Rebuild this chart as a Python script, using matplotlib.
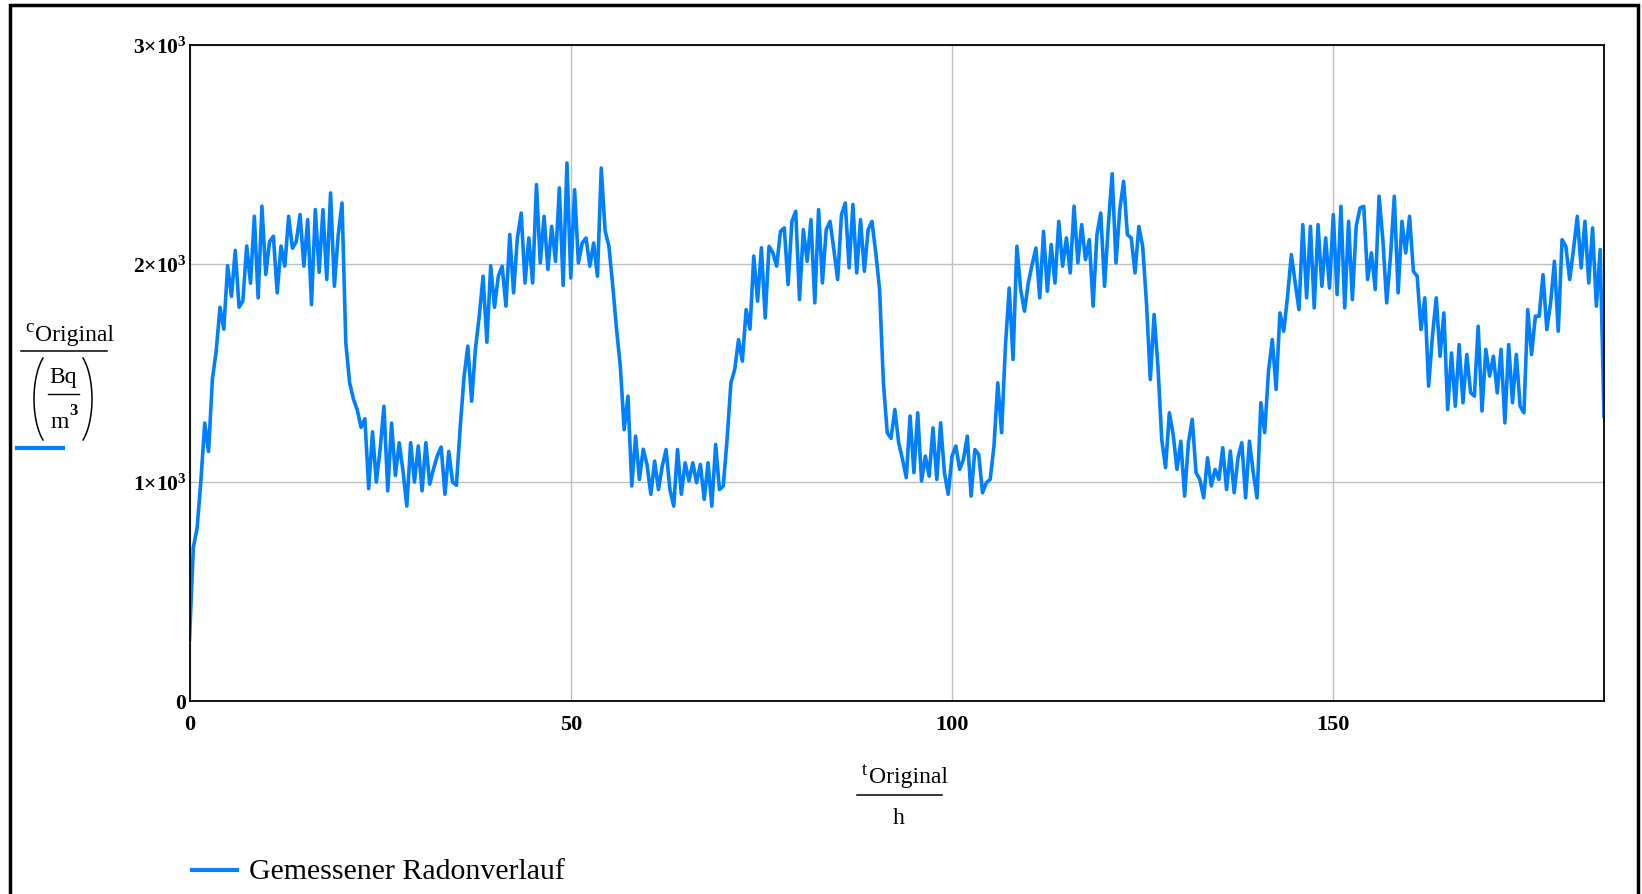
import numpy as np
import matplotlib
matplotlib.use("Agg")
import matplotlib.pyplot as plt
from matplotlib.lines import Line2D
from matplotlib.patches import Rectangle

# Gemessene Radonkonzentration, ein Wert alle 30 min (Bq/m^3)
t_step_h = 0.5
c_original = [
    280, 700, 790, 1010, 1270, 1140, 1470, 1600, 1800, 1700,
    1990, 1850, 2060, 1800, 1830, 2080, 1910, 2216, 1843, 2262,
    1950, 2100, 2125, 1866, 2080, 1988, 2216, 2070, 2100, 2224,
    1988, 2201, 1812, 2247, 1960, 2247, 1927, 2323, 1896, 2130,
    2277, 1637, 1454, 1380, 1330, 1250, 1290, 970, 1230, 1000,
    1150, 1347, 960, 1270, 1030, 1180, 1050, 890, 1180, 1000,
    1165, 960, 1180, 990, 1060, 1120, 1160, 944, 1140, 1000,
    985, 1250, 1480, 1622, 1370, 1610, 1760, 1942, 1640, 1990,
    1800, 1942, 1988, 1805, 2133, 1866, 2117, 2231, 1911, 2117,
    1911, 2361, 2003, 2216, 1973, 2170, 2010, 2346, 1900, 2460,
    1934, 2338, 2003, 2094, 2117, 1988, 2094, 1942, 2437, 2150,
    2080, 1900, 1700, 1530, 1240, 1393, 982, 1210, 1012, 1150,
    1080, 944, 1096, 966, 1073, 1149, 966, 890, 1149, 944,
    1088, 1005, 1088, 997, 1081, 921, 1088, 890, 1172, 966,
    982, 1195, 1454, 1515, 1652, 1553, 1789, 1700, 2034, 1828,
    2072, 1751, 2079, 2049, 1988, 2147, 2163, 1904, 2193, 2239,
    1835, 2155, 2010, 2201, 1820, 2247, 1911, 2155, 2193, 2064,
    1927, 2224, 2277, 1980, 2270, 1957, 2201, 1965, 2155, 2193,
    2049, 1881, 1454, 1226, 1200, 1332, 1180, 1104, 1020, 1302,
    1043, 1317, 1005, 1119, 1027, 1248, 1012, 1271, 1043, 944,
    1119, 1165, 1058, 1104, 1210, 936, 1149, 1126, 951, 997,
    1012, 1165, 1454, 1226, 1622, 1888, 1561, 2079, 1881, 1782,
    1911, 1995, 2071, 1843, 2147, 1873, 2087, 1911, 2193, 1988,
    2117, 1957, 2262, 2003, 2178, 2018, 2109, 1805, 2132, 2231,
    1896, 2178, 2411, 2003, 2247, 2376, 2132, 2117, 1957, 2170,
    2079, 1820, 1469, 1767, 1530, 1195, 1066, 1317, 1218, 1058,
    1187, 936, 1180, 1287, 1043, 1012, 928, 1111, 982, 1058,
    1012, 1157, 966, 1142, 951, 1111, 1180, 928, 1187, 1043,
    928, 1363, 1226, 1507, 1652, 1424, 1774, 1690, 1850, 2041,
    1911, 1789, 2178, 1843, 2170, 1797, 2178, 1896, 2117, 1888,
    2224, 1858, 2262, 1797, 2193, 1835, 2170, 2254, 2262, 1927,
    2049, 1881, 2308, 2109, 1820, 2033, 2308, 1866, 2193, 2049,
    2216, 1965, 1942, 1698, 1843, 1439, 1667, 1843, 1576, 1774,
    1332, 1591, 1347, 1629, 1363, 1584, 1410, 1393, 1713, 1325,
    1607, 1485, 1576, 1408, 1607, 1271, 1629, 1363, 1584, 1347,
    1317, 1789, 1584, 1759, 1759, 1949, 1698, 1820, 2010, 1690,
    2109, 2079, 1927, 2064, 2216, 1980, 2193, 1911, 2163, 1805,
    2064, 1300,
]

x_ticks = [0, 50, 100, 150]
x_tick_labels = ["0", "50", "100", "150"]
y_ticks = [0, 1000, 2000, 3000]
y_tick_labels = [r"$\mathbf{0}$", r"$\mathbf{1{\times}10^{3}}$",
                 r"$\mathbf{2{\times}10^{3}}$", r"$\mathbf{3{\times}10^{3}}$"]
legend_label = "Gemessener Radonverlauf"

plt.rcParams["font.family"] = ["Liberation Serif", "DejaVu Serif"]
plt.rcParams["mathtext.fontset"] = "custom"
plt.rcParams["mathtext.rm"] = "Liberation Serif"
plt.rcParams["mathtext.bf"] = "Liberation Serif:bold"
plt.rcParams["mathtext.it"] = "Liberation Serif:italic"

W, H = 1642, 895
line_color = "#0080ff"


def fx(x):
    return x / W


def fy(y):
    return 1 - y / H


def hline(fig, x0, x1, y, color="black", lw=1.1):
    fig.add_artist(Line2D([fx(x0), fx(x1)], [fy(y), fy(y)], color=color, lw=lw,
                          transform=fig.transFigure))


def paren(fig, cx, cy, a, b, t0, t1):
    # Klammer als Ellipsenbogen, Pixelkoordinaten
    ang = np.radians(np.linspace(t0, t1, 40))
    px = cx + a * np.cos(ang)
    py = cy - b * np.sin(ang)
    fig.add_artist(Line2D(fx(px), fy(py), color="black", lw=1.1,
                          transform=fig.transFigure))


t_original = np.arange(len(c_original)) * t_step_h

fig = plt.figure(figsize=(W / 100, H / 100), dpi=100)
ax = fig.add_axes([fx(189.5), fy(701.6), fx(1604) - fx(189.5), fy(46) - fy(701.6)])

ax.plot(t_original, c_original, color=line_color, linewidth=2.6, solid_joinstyle="round")

ax.set_xlim(0, 185.5)
ax.set_ylim(0, 3000)
ax.set_xticks(x_ticks, labels=x_tick_labels, fontsize=16, fontweight="bold")
ax.set_yticks(y_ticks, labels=y_tick_labels, fontsize=15.5)
ax.tick_params(axis="x", length=0, pad=10)
ax.tick_params(axis="y", length=0, pad=2)
ax.grid(True, color="#c0c0c0", linewidth=1.0)
ax.set_axisbelow(True)
for sp in ax.spines.values():
    sp.set_linewidth(1.3)
    sp.set_color("black")

# y-Achsenbeschriftung: c_Original / (Bq/m^3)
fig.text(fx(29), fy(327), "c", fontsize=13.5, ha="center", va="center")
fig.text(fx(35), fy(335), "Original", fontsize=17, ha="left", va="center")
hline(fig, 21, 107, 352)
fig.text(fx(63), fy(377), "Bq", fontsize=17, ha="center", va="center")
hline(fig, 48, 79, 395, lw=1.0)
fig.text(fx(60), fy(423), "m", fontsize=17, ha="center", va="center")
fig.text(fx(73), fy(411), "3", fontsize=12, fontweight="bold", ha="center", va="center")
paren(fig, 55, 400, 21, 50, 125, 235)
paren(fig, 71, 400, 21, 50, -55, 55)
hline(fig, 17, 63, 449, color=line_color, lw=3)

# x-Achsenbeschriftung: t_Original / h
fig.text(fx(864), fy(771), "t", fontsize=13.5, ha="center", va="center")
fig.text(fx(869), fy(778), "Original", fontsize=17, ha="left", va="center")
hline(fig, 857, 942, 796)
fig.text(fx(899), fy(819), "h", fontsize=17, ha="center", va="center")

# Legende
hline(fig, 192, 237, 871, color=line_color, lw=3)
fig.text(fx(249), fy(872), legend_label, fontsize=21.5, ha="left", va="center")

# Rahmen
fig.add_artist(Rectangle((fx(9.5), fy(905)), fx(1638) - fx(9.5), fy(6) - fy(905),
                         transform=fig.transFigure, fill=False, ec="black", lw=2.5,
                         clip_on=False))

fig.savefig("out.png", dpi=100, facecolor="white")
